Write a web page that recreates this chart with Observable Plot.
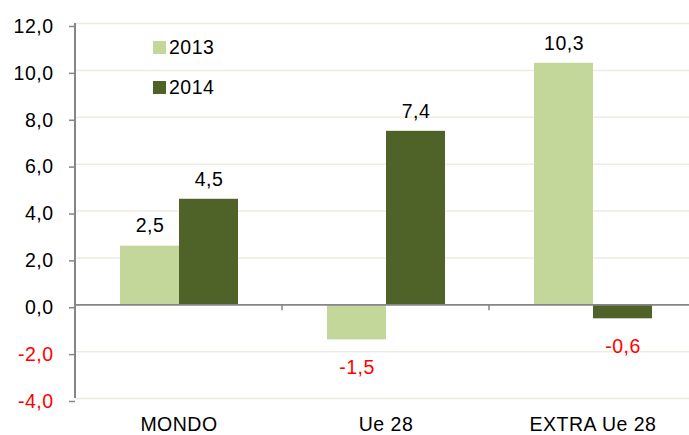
<!DOCTYPE html>
<html>
<head>
<meta charset="utf-8">
<script src="https://cdn.jsdelivr.net/npm/d3@7"></script>
<script src="https://cdn.jsdelivr.net/npm/@observablehq/plot@0.6"></script>
<style>
  html, body { margin: 0; padding: 0; background: #fff; overflow: hidden; }
  #wrap { position: relative; width: 689px; height: 435px; font-family: "Liberation Sans", Arial, sans-serif; }
  .leg { position: absolute; display: flex; align-items: center; font-size: 19.5px; letter-spacing: 0.5px; color: #000; line-height: 1; }
  .leg span.sw { display: inline-block; width: 13px; height: 13px; margin-right: 3px; }
</style>
</head>
<body>
<div id="wrap"></div>
<script>
const categories = ["MONDO", "Ue 28", "EXTRA Ue 28"];
const years = ["2013", "2014"];
const values2013 = [2.5, -1.5, 10.3];
const values2014 = [4.5, 7.4, -0.6];
const yTicks = [-4, -2, 0, 2, 4, 6, 8, 10, 12];
const colors = ["#c4d79b", "#4f6228"];

const data = categories.flatMap((c, i) => [
  {cat: c, year: years[0], value: values2013[i]},
  {cat: c, year: years[1], value: values2014[i]}
]);
const fmt = v => d3.format(".1f")(v).replace(".", ",").replace("\u2212", "-");

const chart = Plot.plot({
  width: 689,
  height: 435,
  marginLeft: 75,
  marginRight: -7,
  marginTop: 23,
  marginBottom: 37,
  style: {fontFamily: "'Liberation Sans', Arial, sans-serif", fontSize: "19.5px", letterSpacing: "0.5px", background: "transparent", color: "#000"},
  fx: {domain: categories, padding: 0, label: null},
  x: {domain: years, paddingInner: 0, paddingOuter: 0.74, axis: null},
  y: {domain: [-4, 12], label: null},
  color: {domain: years, range: colors},
  marks: [
    Plot.gridY(yTicks, {stroke: "#eeece1", strokeOpacity: 1, strokeWidth: 1.5}),
    Plot.barY(data, {fx: "cat", x: "year", y: "value", fill: "year"}),
    Plot.ruleY([0], {stroke: "#868686", strokeWidth: 1.75}),
    Plot.text(data.filter(d => d.value >= 0), {fx: "cat", x: "year", y: "value", text: d => fmt(d.value), dy: -20, fill: "#000"}),
    Plot.text(data.filter(d => d.value < 0), {fx: "cat", x: "year", y: "value", text: d => fmt(d.value), dy: 28, fill: "#ff0000"}),
    Plot.axisY(yTicks, {anchor: "left", tickSize: 6, tickPadding: 16, tickFormat: fmt, stroke: "#868686", strokeWidth: 1.5, fill: d => d < 0 ? "#ff0000" : "#000000", dy: 3, label: null}),
    Plot.axisFx({anchor: "bottom", tickSize: 0, tickPadding: 19, label: null})
  ]
});

document.getElementById("wrap").appendChild(chart);

// y-axis line and category boundary ticks, positioned from the plot's scales
const fxs = chart.scale("fx");
const ys = chart.scale("y");
const yOf = v => ys.apply ? ys.apply(v) : d3.scaleLinear(ys.domain, ys.range)(v);
const r0 = fxs.range[0];
const step = fxs.step || (fxs.range[1] - fxs.range[0]) / fxs.domain.length;
const g = d3.select(chart).append("g").attr("stroke", "#868686");
g.append("line")
  .attr("x1", r0).attr("x2", r0)
  .attr("y1", yOf(d3.max(yTicks))).attr("y2", yOf(d3.min(yTicks)))
  .attr("stroke-width", 2);
g.selectAll("line.b").data(d3.range(1, categories.length + 1)).join("line")
  .attr("class", "b")
  .attr("x1", k => r0 + k * step).attr("x2", k => r0 + k * step)
  .attr("y1", yOf(0)).attr("y2", yOf(0) + 6)
  .attr("stroke-width", 1.5);

// legend inside the plot area
const wrap = document.getElementById("wrap");
years.forEach((yr, i) => {
  const d = document.createElement("div");
  d.className = "leg";
  d.style.left = "153px";
  d.style.top = (38 + i * 40) + "px";
  d.innerHTML = `<span class="sw" style="background:${colors[i]}"></span><span>${yr}</span>`;
  wrap.appendChild(d);
});
</script>
</body>
</html>
